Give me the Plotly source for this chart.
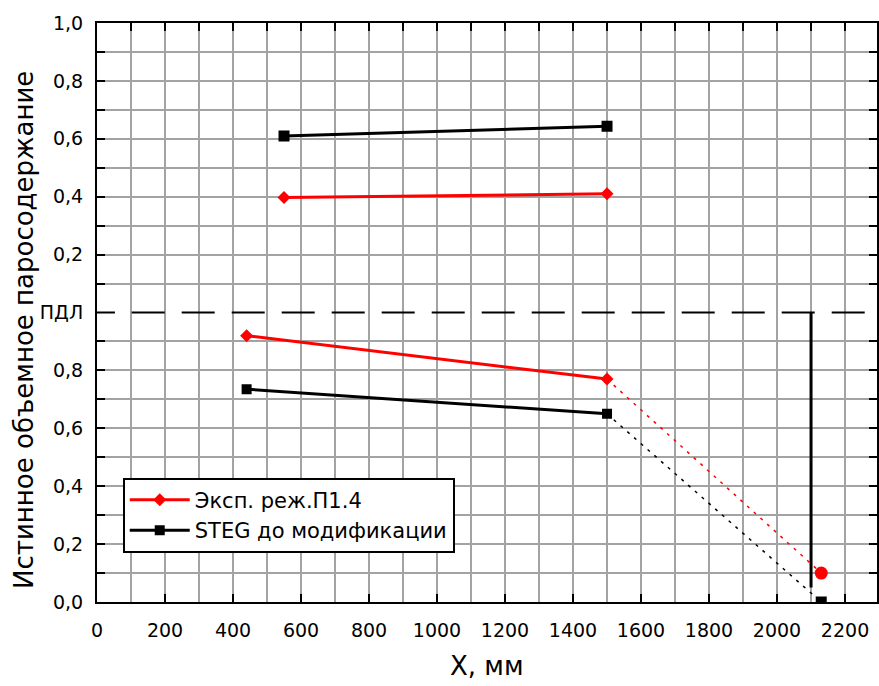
import plotly.graph_objects as go

# ---- data ----
x_lower = [440, 1500]
y_exp_lower = [0.92, 0.77]
y_steg_lower = [0.735, 0.65]

x_upper = [550, 1500]
y_exp_upper = [0.397, 0.41]
y_steg_upper = [0.61, 0.643]

x_exit = 2130
y_exp_exit = 0.10
y_steg_exit = 0.0

x_pdl_wall = 2100
y_pdl_wall = [0.05, 1.0]

x_ticks = list(range(0, 2201, 200))
y_lower_ticks = [0.0, 0.2, 0.4, 0.6, 0.8]
y_lower_text = ["0,0", "0,2", "0,4", "0,6", "0,8"]
y_upper_ticks = [0.0, 0.2, 0.4, 0.6, 0.8, 1.0]
y_upper_text = ["ПДЛ", "0,2", "0,4", "0,6", "0,8", "1,0"]

name_exp = "Эксп. реж.П1.4"
name_steg = "STEG до модификации"

RED = "#ff0000"
BLACK = "#000000"
GRID = "#a3a3a3"
FONT = "DejaVu Sans"

fig = go.Figure()

# lower panel
fig.add_trace(go.Scatter(x=x_lower, y=y_exp_lower, mode="lines+markers", name=name_exp,
                         line=dict(color=RED, width=3),
                         marker=dict(symbol="diamond", size=10, color=RED),
                         xaxis="x", yaxis="y"))
fig.add_trace(go.Scatter(x=x_lower, y=y_steg_lower, mode="lines+markers", name=name_steg,
                         line=dict(color=BLACK, width=3),
                         marker=dict(symbol="square", size=10, color=BLACK),
                         xaxis="x", yaxis="y"))
fig.add_trace(go.Scatter(x=[x_lower[-1], x_exit], y=[y_exp_lower[-1], y_exp_exit], mode="lines",
                         line=dict(color=RED, width=1.5, dash="3px,6px"), showlegend=False,
                         xaxis="x", yaxis="y"))
fig.add_trace(go.Scatter(x=[x_lower[-1], x_exit], y=[y_steg_lower[-1], y_steg_exit], mode="lines",
                         line=dict(color=BLACK, width=1.5, dash="3px,6px"), showlegend=False,
                         xaxis="x", yaxis="y"))
fig.add_trace(go.Scatter(x=[x_pdl_wall, x_pdl_wall], y=y_pdl_wall, mode="lines",
                         line=dict(color=BLACK, width=3), showlegend=False,
                         xaxis="x", yaxis="y"))
fig.add_trace(go.Scatter(x=[x_exit], y=[y_exp_exit], mode="markers",
                         marker=dict(symbol="circle", size=13, color=RED), showlegend=False,
                         xaxis="x", yaxis="y"))
fig.add_trace(go.Scatter(x=[x_exit], y=[y_steg_exit], mode="markers",
                         marker=dict(symbol="square", size=11, color=BLACK), showlegend=False,
                         xaxis="x", yaxis="y"))

# upper panel
fig.add_trace(go.Scatter(x=x_upper, y=y_exp_upper, mode="lines+markers",
                         line=dict(color=RED, width=3),
                         marker=dict(symbol="diamond", size=10, color=RED),
                         showlegend=False, xaxis="x2", yaxis="y2"))
fig.add_trace(go.Scatter(x=x_upper, y=y_steg_upper, mode="lines+markers",
                         line=dict(color=BLACK, width=3),
                         marker=dict(symbol="square", size=11, color=BLACK),
                         showlegend=False, xaxis="x2", yaxis="y2"))

grid_common = dict(showgrid=True, gridcolor=GRID, gridwidth=2, zeroline=False,
                   linecolor=BLACK, linewidth=2, showline=True, automargin=False,
                   ticks="inside", ticklen=8, tickwidth=2, tickcolor=BLACK,
                   tickfont=dict(family=FONT, size=19, color=BLACK))

fig.update_layout(
    width=879, height=686,
    margin=dict(l=97, r=2, t=23, b=84, autoexpand=False),
    paper_bgcolor="white", plot_bgcolor="white",
    font=dict(family=FONT, size=19, color=BLACK),
    xaxis=dict(domain=[0, 1], range=[0, 2294], anchor="y",
               tickmode="array", tickvals=x_ticks, ticklabelstandoff=10,
               minor=dict(tickmode="linear", tick0=0, dtick=100, showgrid=True,
                          gridcolor=GRID, gridwidth=2, ticks=""),
               **grid_common),
    xaxis2=dict(domain=[0, 1], range=[0, 2294], anchor="y2", side="top", matches="x",
                tickmode="linear", tick0=0, dtick=100, showticklabels=False,
                **grid_common),
    yaxis=dict(domain=[0, 0.5], range=[0, 1], anchor="x",
               tickmode="array", tickvals=y_lower_ticks, ticktext=y_lower_text,
               ticklabelstandoff=8, mirror="ticks",
               minor=dict(tickmode="linear", tick0=0, dtick=0.1, showgrid=True,
                          gridcolor=GRID, gridwidth=2, ticks="inside", ticklen=8,
                          tickcolor=BLACK, tickwidth=2),
               **grid_common),
    yaxis2=dict(domain=[0.5, 1], range=[0, 1], anchor="x2",
                tickmode="array", tickvals=y_upper_ticks, ticktext=y_upper_text,
                ticklabelstandoff=8, mirror="ticks",
                minor=dict(tickmode="linear", tick0=0, dtick=0.1, showgrid=True,
                           gridcolor=GRID, gridwidth=2, ticks="inside", ticklen=8,
                           tickcolor=BLACK, tickwidth=2),
                **grid_common),
    legend=dict(x=0.033, y=0.2147, xanchor="left", yanchor="top",
                bgcolor="white", bordercolor=BLACK, borderwidth=2,
                font=dict(family=FONT, size=21, color=BLACK),
                itemwidth=60, tracegroupgap=0),
    shapes=[
        dict(type="line", xref="paper", yref="paper", x0=0.0445, x1=1, y0=0.5, y1=0.5,
             line=dict(color=BLACK, width=2, dash="33px,17px"), layer="above"),
        dict(type="line", xref="paper", yref="paper", x0=0, x1=0.023, y0=0.5, y1=0.5,
             line=dict(color=BLACK, width=2), layer="above"),
    ],
    annotations=[
        dict(text="Истинное объемное паросодержание", xref="paper", yref="paper",
             x=-0.0936, y=0.4698, xanchor="center", yanchor="middle", textangle=-90,
             showarrow=False, font=dict(family=FONT, size=26, color=BLACK)),
        dict(text="X, мм", xref="paper", yref="paper",
             x=0.5, y=-0.1105, xanchor="center", yanchor="middle",
             showarrow=False, font=dict(family=FONT, size=26, color=BLACK)),
    ],
)

fig.write_html(
    "out.html",
    config={"displayModeBar": False},
    post_script="document.body.style.margin='0';document.body.style.padding='0';",
)
